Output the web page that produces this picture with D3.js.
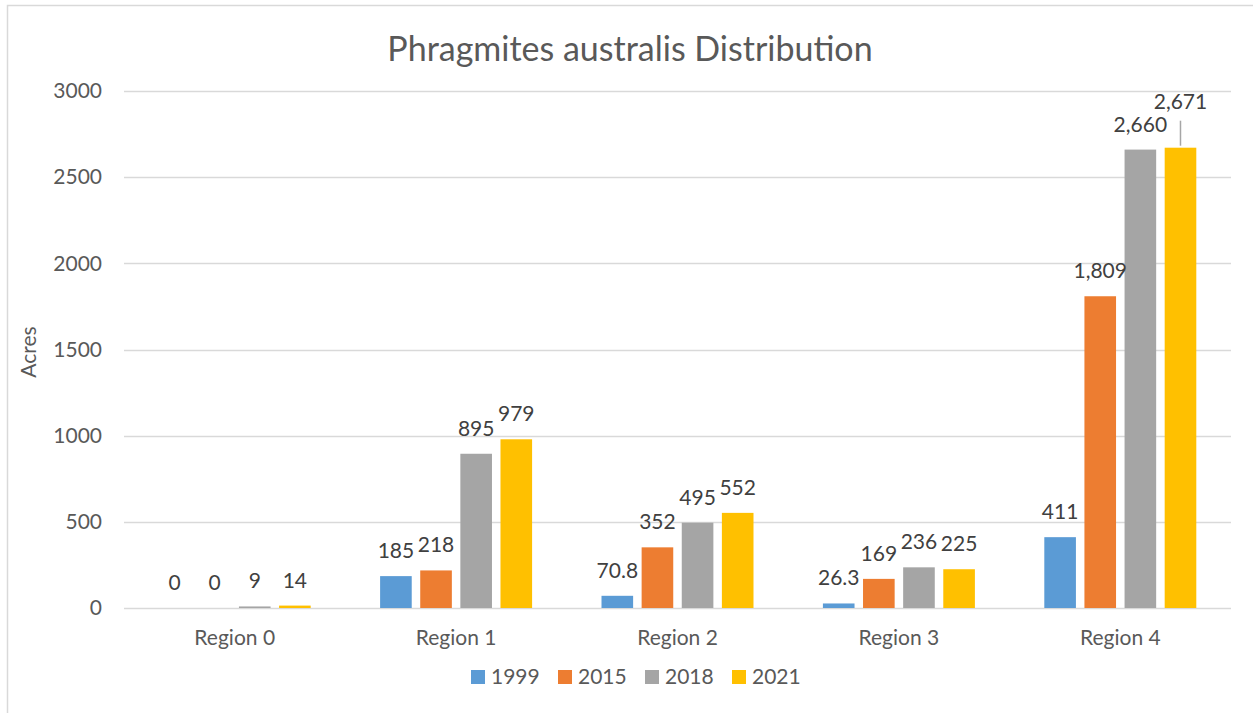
<!DOCTYPE html>
<html>
<head>
<meta charset="utf-8">
<script src="https://cdn.jsdelivr.net/npm/d3@7"></script>
<style>
  body { margin: 0; background: #fff; }
  svg { font-family: Lato, "Open Sans", sans-serif; }
</style>
</head>
<body>
<svg id="chart" width="1253" height="713"></svg>
<script>
// data
var regions = ["Region 0", "Region 1", "Region 2", "Region 3", "Region 4"];
var years = ["1999", "2015", "2018", "2021"];
var v1999 = [0, 185, 70.8, 26.3, 411];
var v2015 = [0, 218, 352, 169, 1809];
var v2018 = [9, 895, 495, 236, 2660];
var v2021 = [14, 979, 552, 225, 2671];
var yTicks = [0, 500, 1000, 1500, 2000, 2500, 3000];

var series = [v1999, v2015, v2018, v2021];
var colors = ["#5b9bd5", "#ed7d31", "#a5a5a5", "#ffc000"];

var svg = d3.select("#chart");

// chart frame (only left/top edge visible)
svg.append("rect")
  .attr("x", 7.5).attr("y", 5.5)
  .attr("width", 1300).attr("height", 800)
  .attr("fill", "none")
  .attr("stroke", "#d9d9d9")
  .attr("stroke-width", 1.5);

var plotL = 124, plotR = 1231, plotT = 91, plotB = 608;

var x0 = d3.scaleBand().domain(regions).range([plotL, plotR])
  .paddingInner(0.3135).paddingOuter(0.3135 / 2);
var x1 = d3.scaleBand().domain(years).range([0, x0.bandwidth()])
  .paddingInner(0.212);
var y = d3.scaleLinear().domain([0, 3000]).range([plotB, plotT]);

// gridlines
svg.append("g").selectAll("line")
  .data(yTicks)
  .enter().append("line")
  .attr("x1", plotL).attr("x2", plotR)
  .attr("y1", function(d) { return Math.round(y(d)) + 0.5; })
  .attr("y2", function(d) { return Math.round(y(d)) + 0.5; })
  .attr("stroke", "#d9d9d9")
  .attr("stroke-width", 1.5);

// y axis labels (no thousands separator on the axis)
var yAxis = d3.axisLeft(y).tickValues(yTicks).tickFormat(d3.format("d"))
  .tickSize(0).tickPadding(22);
var gy = svg.append("g").attr("transform", "translate(" + plotL + ",0)").call(yAxis);
gy.select(".domain").remove();
gy.selectAll("text")
  .attr("fill", "#595959")
  .attr("font-size", "21px")
  .attr("font-family", "Lato, sans-serif");

// x axis labels
var xAxis = d3.axisBottom(x0).tickSize(0).tickPadding(22);
var gx = svg.append("g").attr("transform", "translate(0," + plotB + ")").call(xAxis);
gx.select(".domain").remove();
gx.selectAll("text")
  .attr("fill", "#595959")
  .attr("font-size", "21px")
  .attr("font-family", "Lato, sans-serif");

// bars
var rows = [];
regions.forEach(function(r, i) {
  years.forEach(function(yr, j) {
    rows.push({ region: r, year: yr, value: series[j][i], j: j });
  });
});

svg.append("g").selectAll("rect")
  .data(rows)
  .enter().append("rect")
  .attr("x", function(d) { return x0(d.region) + x1(d.year); })
  .attr("width", x1.bandwidth())
  .attr("y", function(d) { return y(d.value); })
  .attr("height", function(d) { return plotB - y(d.value); })
  .attr("fill", function(d) { return colors[d.j]; });

// data labels
var fmt = d3.format(",");
svg.append("g").selectAll("text")
  .data(rows)
  .enter().append("text")
  .attr("x", function(d) { return x0(d.region) + x1(d.year) + x1.bandwidth() / 2; })
  .attr("y", function(d) {
    var off = (d.region == "Region 4" && d.year == "2021") ? 39 : 18;
    return y(d.value) - off;
  })
  .attr("text-anchor", "middle")
  .attr("fill", "#404040")
  .attr("font-size", "21px")
  .text(function(d) { return fmt(d.value); });

// leader line for the moved 2,671 label
var lead = rows.filter(function(d) { return d.region == "Region 4" && d.year == "2021"; })[0];
svg.append("line")
  .attr("x1", x0(lead.region) + x1(lead.year) + x1.bandwidth() / 2)
  .attr("x2", x0(lead.region) + x1(lead.year) + x1.bandwidth() / 2)
  .attr("y1", y(lead.value) - 2)
  .attr("y2", y(lead.value) - 27)
  .attr("stroke", "#a6a6a6")
  .attr("stroke-width", 1.5);

// title
svg.append("text")
  .attr("x", 630).attr("y", 61)
  .attr("text-anchor", "middle")
  .attr("fill", "#595959")
  .attr("font-size", "34px")
  .text("Phragmites australis Distribution");

// y axis title
svg.append("text")
  .attr("transform", "translate(36,352) rotate(-90)")
  .attr("text-anchor", "middle")
  .attr("fill", "#595959")
  .attr("font-size", "21px")
  .text("Acres");

// legend
var legend = svg.append("g").selectAll("g")
  .data(years)
  .enter().append("g")
  .attr("transform", function(d, i) { return "translate(" + (471 + i * 87) + ",670)"; });
legend.append("rect")
  .attr("width", 14).attr("height", 14)
  .attr("fill", function(d, i) { return colors[i]; });
legend.append("text")
  .attr("x", 20).attr("y", 14)
  .attr("fill", "#595959")
  .attr("font-size", "21px")
  .text(function(d) { return d; });
</script>
</body>
</html>
